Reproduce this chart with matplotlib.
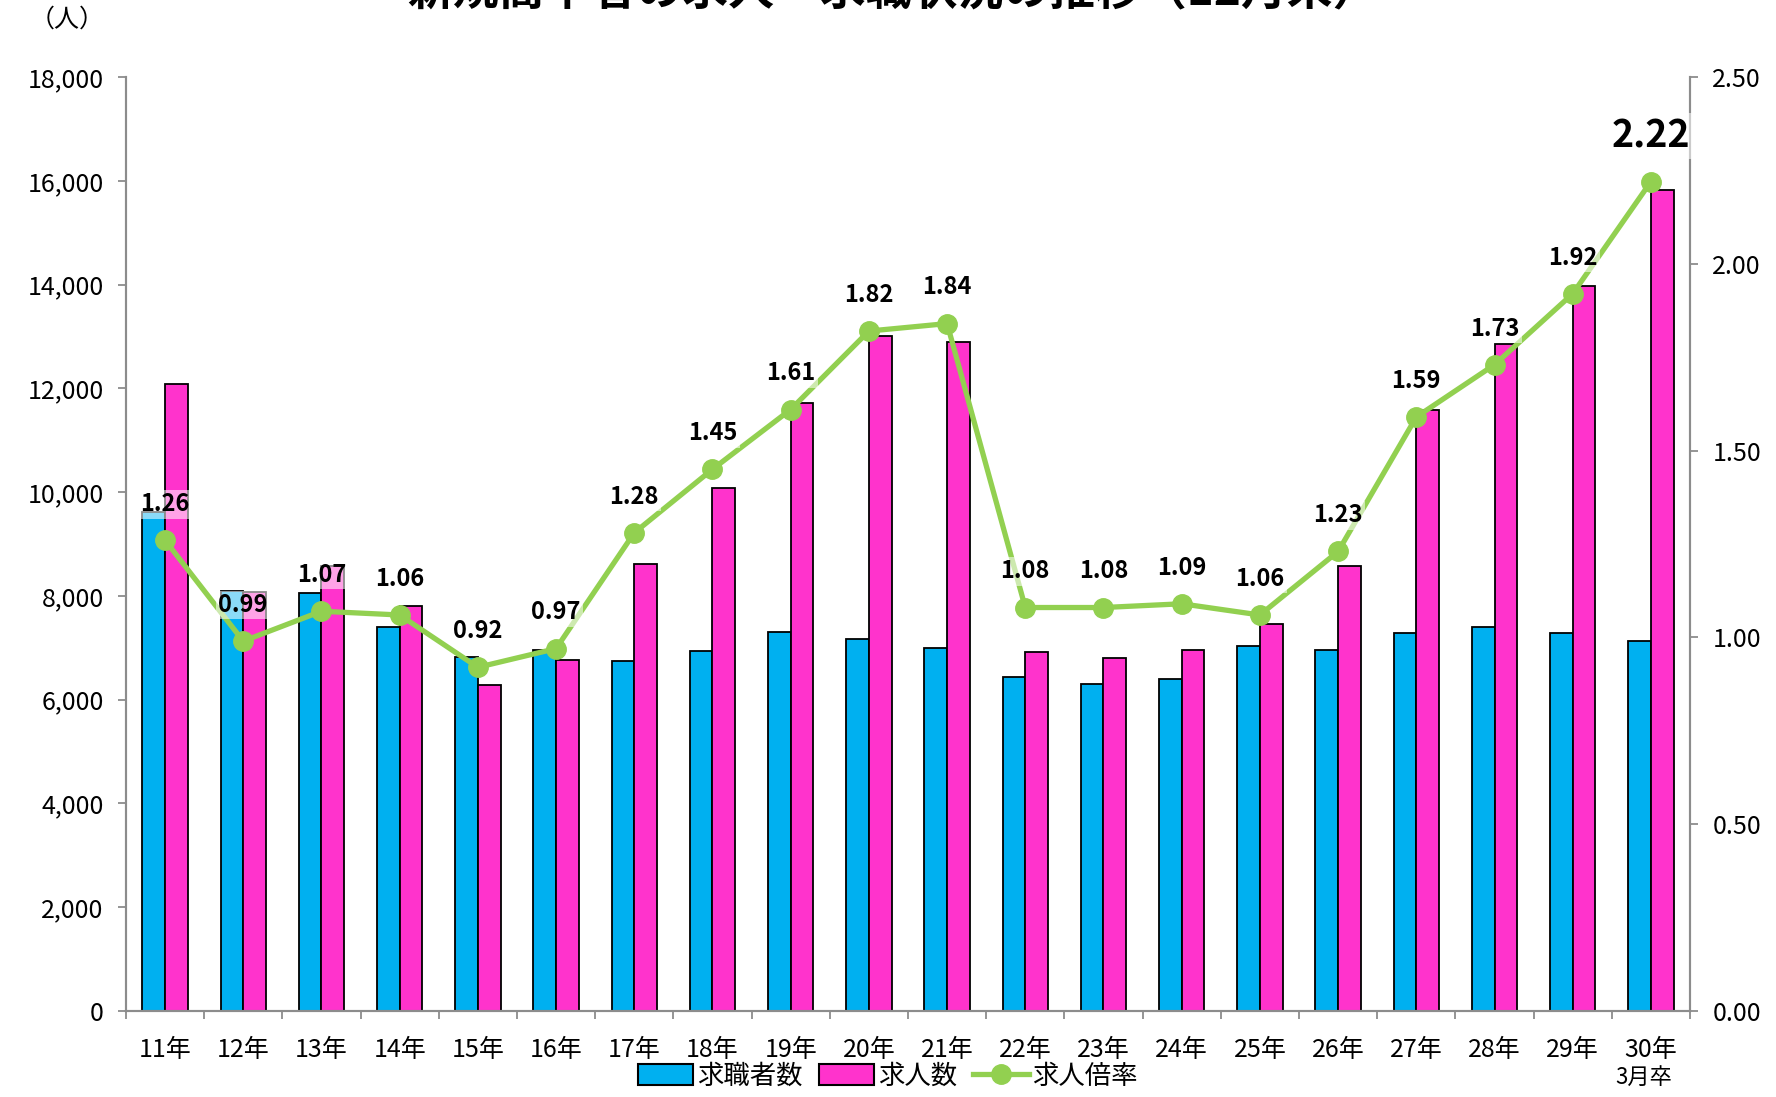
import matplotlib
matplotlib.use("Agg")
import matplotlib.pyplot as plt
import numpy as np
from matplotlib.patches import Patch
from matplotlib.lines import Line2D

plt.rcParams['font.family'] = ['Noto Sans CJK JP', 'DejaVu Sans']

# data
years = ["11年", "12年", "13年", "14年", "15年", "16年", "17年", "18年", "19年", "20年",
         "21年", "22年", "23年", "24年", "25年", "26年", "27年", "28年", "29年", "30年"]
seekers = [9620, 8095, 8050, 7400, 6830, 6960, 6740, 6940, 7310, 7160,
           7000, 6440, 6310, 6390, 7030, 6960, 7290, 7400, 7290, 7135]
openings = [12090, 8070, 8575, 7810, 6285, 6765, 8620, 10080, 11715, 13000,
            12895, 6915, 6810, 6960, 7460, 8575, 11585, 12850, 13965, 15820]
ratio = [1.26, 0.99, 1.07, 1.06, 0.92, 0.97, 1.28, 1.45, 1.61, 1.82,
         1.84, 1.08, 1.08, 1.09, 1.06, 1.23, 1.59, 1.73, 1.92, 2.22]

blue = "#00B0F0"
pink = "#FF33CC"
green = "#92D050"
grey = "#8C8C8C"

fig = plt.figure(figsize=(17.76, 10.97), dpi=100)
ax = fig.add_axes([0.0709, 0.0784, 0.8807, 0.8514])
ax2 = ax.twinx()

x = np.arange(len(years))
w = 0.29
ax.bar(x - w / 2, seekers, w, color=blue, edgecolor="black", linewidth=1.3, zorder=2)
ax.bar(x + w / 2, openings, w, color=pink, edgecolor="black", linewidth=1.3, zorder=2)

ax.set_xlim(-0.5, len(years) - 0.5)
ax.set_ylim(0, 18000)
ax.set_yticks(np.arange(0, 18001, 2000))
ax.set_yticklabels(["{:,}".format(v) for v in range(0, 18001, 2000)], fontsize=18)
ax.set_xticks(x)
ax.set_xticklabels(years, fontsize=18)
ax.tick_params(axis="x", which="major", length=0, pad=19)
ax.set_xticks(np.arange(-0.5, len(years), 1), minor=True)
ax.tick_params(axis="x", which="minor", length=6, color=grey, width=1.3)
ax.tick_params(axis="y", length=6, color=grey, width=1.3, pad=10)

ax2.plot(x, ratio, color=green, linewidth=3.8, marker="o", markersize=14, zorder=5)
ax2.set_ylim(0, 2.5)
ax2.set_yticks(np.arange(0, 2.51, 0.5))
ax2.set_yticklabels(["{:.2f}".format(v) for v in np.arange(0, 2.51, 0.5)], fontsize=18)
ax2.tick_params(axis="y", length=6, color=grey, width=1.3, pad=10)

for a in (ax, ax2):
    a.spines["top"].set_visible(False)
    for s in ("left", "right", "bottom"):
        a.spines[s].set_color(grey)
        a.spines[s].set_linewidth(1.5)

for i, r in enumerate(ratio):
    last = i == len(ratio) - 1
    ax2.annotate("{:.2f}".format(r), (x[i], r), xytext=(0, 33 if last else 26),
                 textcoords="offset points", ha="center", va="center",
                 fontsize=27 if last else 17, fontweight="bold", zorder=6,
                 bbox=dict(boxstyle="square,pad=0.1", fc="white", ec="none", alpha=0.55))

ax.text(x[-1] + 0.27, -0.071, "3月卒", transform=ax.get_xaxis_transform(),
        ha="right", va="center", fontsize=16)

fig.text(0.038, 0.982, "（人）", fontsize=18, ha="center", va="center")
fig.text(0.503, 1.008, "新規高卒者の求人・求職状況の推移（12月末）", fontsize=33,
         fontweight="bold", ha="center", va="center")

handles = [Patch(facecolor=blue, edgecolor="black", linewidth=1.5),
           Patch(facecolor=pink, edgecolor="black", linewidth=1.5),
           Line2D([], [], color=green, linewidth=3.8, marker="o", markersize=14)]
fig.legend(handles, ["求職者数", "求人数", "求人倍率"], loc="center", ncol=3,
           bbox_to_anchor=(0.5, 0.019), frameon=False, fontsize=19,
           handlelength=2.1, handleheight=0.8, handletextpad=0.15, columnspacing=0.6)

fig.savefig("out.png", dpi=100)
